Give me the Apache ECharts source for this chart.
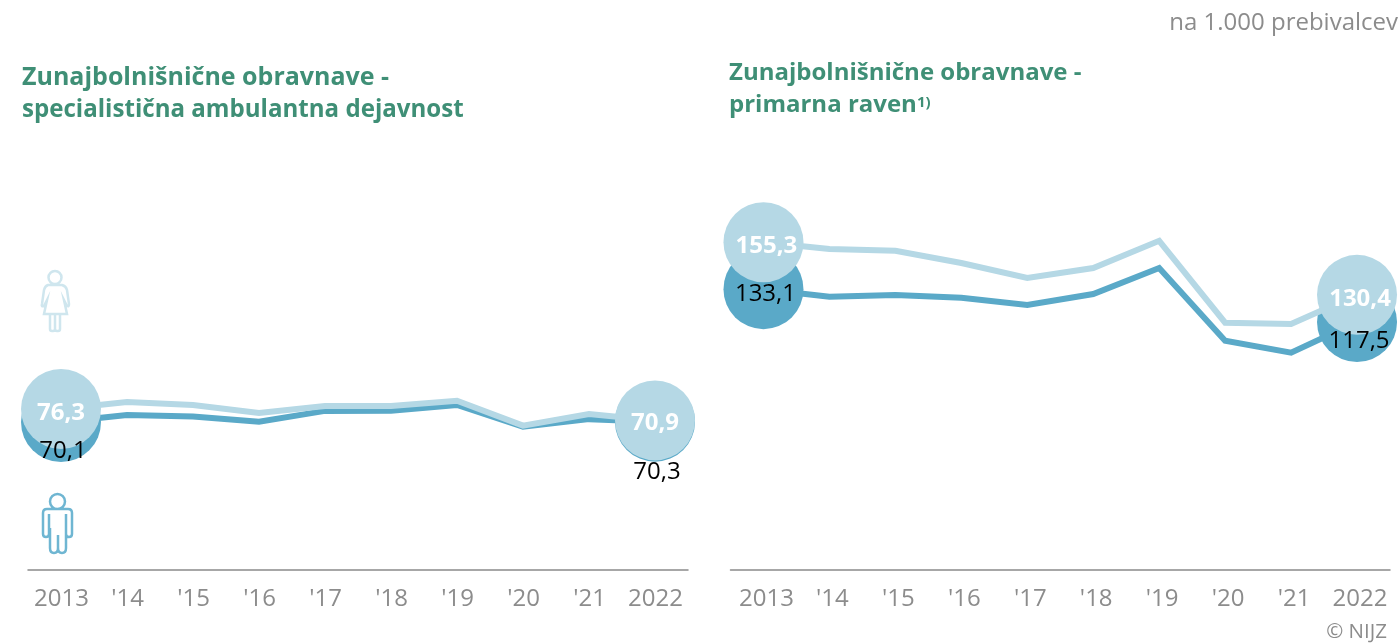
<!DOCTYPE html>
<html>
<head>
<meta charset="utf-8">
<style>html,body{margin:0;padding:0;background:#fff}#c{width:1400px;height:644px}</style>
<script src="https://cdn.jsdelivr.net/npm/echarts@6/dist/echarts.min.js"></script>
</head>
<body>
<div id="c"></div>
<script>
const years = ['2013', "'14", "'15", "'16", "'17", "'18", "'19", "'20", "'21", '2022'];
const specWomen = [76.3, 79.6, 78.2, 74.4, 77.7, 77.7, 80.2, 68.4, 73.9, 70.9];
const specMen = [70.1, 73.5, 72.7, 70.3, 75.4, 75.5, 78.2, 67.9, 71.5, 70.3];
const primWomen = [155.3, 152.1, 151.3, 145.5, 138.4, 143.1, 156.0, 117.2, 116.6, 130.4];
const primMen = [133.1, 129.5, 130.3, 129.0, 125.6, 130.8, 143.1, 108.7, 103.0, 117.5];
const titleLeft = ['Zunajbolnišnične obravnave -', 'specialistična ambulantna dejavnost'];
const titleRight = ['Zunajbolnišnične obravnave -', 'primarna raven'];
const unitText = 'na 1.000 prebivalcev';
const sourceText = '© NIJZ';

const FONT = '"Open Sans", sans-serif';
const WOMEN = '#b5d8e5', MEN = '#5aa9c8', GREEN = '#3f8f76', GREY = '#8c8c8c';

const isEdge = (i, values) => i === 0 || i === values.length - 1;

// The line and its two end circles
function lineSeries(name, values, idx, color, z) {
  return {
    name, type: 'line', xAxisIndex: idx, yAxisIndex: idx, z, clip: false,
    symbol: 'circle', showSymbol: true, showAllSymbol: true,
    symbolSize: (v, p) => isEdge(p.dataIndex, values) ? 80 : 0,
    lineStyle: { color, width: 6, join: 'miter', cap: 'butt' },
    itemStyle: { color, opacity: 1 },
    emphasis: { disabled: true },
    data: values
  };
}
// The end labels, in a series of their own so that they sit above every circle
function labelSeries(name, values, idx, bold, textColor, offFirst, offLast, z) {
  return {
    name: name + ' oznake', type: 'line', xAxisIndex: idx, yAxisIndex: idx, z, clip: false,
    symbol: 'circle', showSymbol: true, showAllSymbol: true,
    symbolSize: (v, p) => isEdge(p.dataIndex, values) ? 80 : 0,
    lineStyle: { width: 0, color: 'rgba(0,0,0,0)' },
    itemStyle: { color: 'rgba(0,0,0,0)' },
    emphasis: { disabled: true },
    data: values.map((v, i) => ({
      value: v,
      label: isEdge(i, values) ? {
        show: true, position: 'inside', offset: i === 0 ? offFirst : offLast,
        formatter: v.toFixed(1).replace('.', ','),
        color: textColor, fontFamily: FONT, fontSize: 24,
        fontWeight: bold ? 'bold' : 'normal'
      } : { show: false }
    }))
  };
}

const xAx = (gi, pad) => ({
  type: 'category', gridIndex: gi, data: years, boundaryGap: true,
  axisLine: { show: true, lineStyle: { color: '#8a8a8a', width: 1.5 } },
  axisTick: { show: false },
  axisLabel: { interval: 0, color: GREY, fontFamily: FONT, fontSize: 24, margin: 17, padding: [0, 0, 0, pad] }
});
const yAx = gi => ({ type: 'value', gridIndex: gi, min: 0, max: 200, show: false });

const womanPath = 'M55 271a6.5 6.5 0 1 1-.01 0ZM48 285h14q4 1 5 5l2 14q0 3-2 2l-3-6 3 14H44l3-14-3 6q-3 1-2-2l2-14q1-4 4-5ZM50 314v15q0 2 2 2h1q2 0 2-2v-15M55 314v15q0 2 2 2h1q2 0 2-2v-15';
const manPath = 'M57.5 494a7.5 7.5 0 1 1-.01 0ZM47 509h21q4 0 4 4v21q0 3-3 3-3 0-3-3v-20M66 528v20q0 5-4 5t-4-5v-13M58 535v13q0 5-4 5t-4-5v-20M49 514v20q0 3-3 3t-3-3v-21q0-4 4-4';
echarts.graphic.registerShape('womanIcon', echarts.graphic.extendPath(womanPath));
echarts.graphic.registerShape('manIcon', echarts.graphic.extendPath(manPath));

const chart = echarts.init(document.getElementById('c'), null, { renderer: 'canvas' });
chart.setOption({
  animation: false,
  backgroundColor: '#fff',
  grid: [
    { left: 28, width: 660, top: 148, height: 422 },
    { left: 730.5, width: 659.5, top: 148, height: 422 }
  ],
  xAxis: [xAx(0, 1), xAx(1, 6)],
  yAxis: [yAx(0), yAx(1)],
  series: [
    lineSeries('Moški', specMen, 0, MEN, 2),
    lineSeries('Ženske', specWomen, 0, WOMEN, 3),
    lineSeries('Moški', primMen, 1, MEN, 2),
    lineSeries('Ženske', primWomen, 1, WOMEN, 3),
    labelSeries('Moški', specMen, 0, false, '#000', [2, 29], [2, 50], 5),
    labelSeries('Ženske', specWomen, 0, true, '#fff', [0, 4], [0, 3], 5),
    labelSeries('Moški', primMen, 1, false, '#000', [2, 5], [2, 19], 5),
    labelSeries('Ženske', primWomen, 1, true, '#fff', [3, 4], [3, 4], 5)
  ],
  graphic: [
    { type: 'text', left: 22, top: 65, style: { text: titleLeft[0], fill: GREEN, font: 'bold 25px "Open Sans"' } },
    { type: 'text', left: 22, top: 98, style: { text: titleLeft[1], fill: GREEN, font: 'bold 24.1px "Open Sans"' } },
    { type: 'text', left: 729, top: 61, style: { text: titleRight[0], fill: GREEN, font: 'bold 24px "Open Sans"' } },
    { type: 'text', left: 729, top: 93, style: { text: titleRight[1], fill: GREEN, font: 'bold 24px "Open Sans"' } },
    { type: 'text', left: 917, top: 95, style: { text: '1)', fill: GREEN, font: 'bold 15px "Open Sans"' } },
    { type: 'text', right: 2, top: 11, style: { text: unitText, fill: GREY, font: '24px "Open Sans"' } },
    { type: 'text', right: 13, top: 622, style: { text: sourceText, fill: GREY, font: '20.5px "Open Sans"' } },
    { type: 'womanIcon', silent: true, style: { fill: 'none', stroke: '#cfe6ee', lineWidth: 2.5 } },
    { type: 'manIcon', silent: true, style: { fill: 'none', stroke: '#6fb6d2', lineWidth: 2.5 } }
  ]
});
</script>
</body>
</html>
